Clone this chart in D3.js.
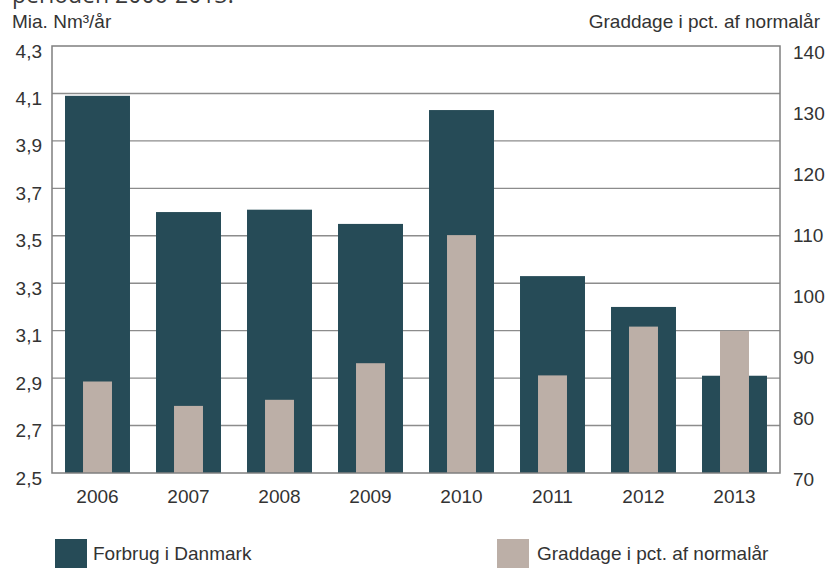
<!DOCTYPE html>
<html>
<head>
<meta charset="utf-8">
<script src="https://cdn.jsdelivr.net/npm/d3@7"></script>
<style>
  html, body { margin: 0; padding: 0; background: #ffffff; }
  svg { display: block; }
  text { font-family: "Liberation Sans", Arial, sans-serif; fill: #333333; }
</style>
</head>
<body>
<svg id="chart" width="827" height="568"></svg>
<script>
// Naturgas: forbrug i Danmark (mia. Nm3/år) og graddage i pct. af normalår
const years = ["2006", "2007", "2008", "2009", "2010", "2011", "2012", "2013"];
const forbrug = [4.09, 3.60, 3.61, 3.55, 4.03, 3.33, 3.20, 2.91];
const graddage = [85, 81, 82, 88, 109, 86, 94, 93.3];
const leftTicks = [2.5, 2.7, 2.9, 3.1, 3.3, 3.5, 3.7, 3.9, 4.1, 4.3];
const rightTicks = [70, 80, 90, 100, 110, 120, 130, 140];
const seriesNames = ["Forbrug i Danmark", "Graddage i pct. af normalår"];

const colDark = "#264b57";
const colTan = "#bcafa7";
const colGrid = "#8c8c8c";

const svg = d3.select("#chart");
const plot = { left: 52, right: 780, top: 46, bottom: 473 };

const x = d3.scaleBand().domain(years)
  .range([plot.left, plot.right])
  .paddingInner(0.286).paddingOuter(0.143);
const yL = d3.scaleLinear().domain([2.5, 4.3]).range([plot.bottom, plot.top]);
const yR = d3.scaleLinear().domain([70, 140]).range([plot.bottom, plot.top]);

const da = d3.formatLocale({ decimal: ",", thousands: ".", grouping: [3], currency: ["", " kr."] });
const fmt1 = da.format(".1f");

// cut-off caption line at the very top
svg.append("text")
  .attr("x", 12).attr("y", 3)
  .style("font-family", "'Open Sans', 'Noto Sans', sans-serif")
  .style("font-size", "23px")
  .style("fill", "#3a3a3a")
  .text("perioden 2006-2013.");

// horizontal gridlines
svg.append("g")
  .selectAll("line")
  .data(leftTicks.slice(1, -1))
  .join("line")
  .attr("x1", plot.left).attr("x2", plot.right)
  .attr("y1", d => yL(d)).attr("y2", d => yL(d))
  .attr("stroke", colGrid).attr("stroke-width", 1.4);

// consumption bars
svg.append("g")
  .selectAll("rect")
  .data(years.map((y, i) => ({ y, v: forbrug[i] })))
  .join("rect")
  .attr("x", d => x(d.y))
  .attr("width", x.bandwidth())
  .attr("y", d => yL(d.v))
  .attr("height", d => yL(2.5) - yL(d.v))
  .attr("fill", colDark);

// degree-day bars (narrow, centred in each band)
const tanW = x.bandwidth() * 0.446;
svg.append("g")
  .selectAll("rect")
  .data(years.map((y, i) => ({ y, v: graddage[i] })))
  .join("rect")
  .attr("x", d => x(d.y) + (x.bandwidth() - tanW) / 2)
  .attr("width", tanW)
  .attr("y", d => yR(d.v))
  .attr("height", d => yR(70) - yR(d.v))
  .attr("fill", colTan);

// plot frame
svg.append("rect")
  .attr("x", plot.left).attr("y", plot.top)
  .attr("width", plot.right - plot.left)
  .attr("height", plot.bottom - plot.top)
  .attr("fill", "none")
  .attr("stroke", "#7f7f7f").attr("stroke-width", 1.5);

// left axis
const gL = svg.append("g")
  .attr("transform", `translate(${plot.left},0)`)
  .call(d3.axisLeft(yL).tickValues(leftTicks).tickFormat(fmt1).tickSize(0).tickPadding(10));
gL.select(".domain").remove();
gL.selectAll("text")
  .attr("dy", "0.32em").attr("y", 5)
  .style("font-size", "19px").style("fill", "#333");

// right axis
const gR = svg.append("g")
  .attr("transform", `translate(${plot.right},0)`)
  .call(d3.axisRight(yR).tickValues(rightTicks).tickFormat(d3.format("d")).tickSize(0).tickPadding(13));
gR.select(".domain").remove();
gR.selectAll("text")
  .attr("dy", "0.32em").attr("y", 6.5)
  .style("font-size", "19px").style("fill", "#333");

// bottom axis
const gB = svg.append("g")
  .attr("transform", `translate(0,${plot.bottom})`)
  .call(d3.axisBottom(x).tickSize(0).tickPadding(0));
gB.select(".domain").remove();
gB.selectAll("text")
  .attr("y", 24).attr("dy", "0.32em")
  .style("font-size", "19px").style("fill", "#333");

// axis titles
svg.append("text")
  .attr("x", 12).attr("y", 28)
  .style("font-size", "19px")
  .text("Mia. Nm³/år");
svg.append("text")
  .attr("x", 820).attr("y", 28)
  .attr("text-anchor", "end")
  .style("font-size", "19px")
  .text("Graddage i pct. af normalår");

// legend
const legend = [
  { name: seriesNames[0], color: colDark, x: 55, tx: 93 },
  { name: seriesNames[1], color: colTan, x: 497, tx: 537 }
];
const lg = svg.append("g").selectAll("g").data(legend).join("g");
lg.append("rect")
  .attr("x", d => d.x).attr("y", 539)
  .attr("width", 32).attr("height", 32)
  .attr("fill", d => d.color);
lg.append("text")
  .attr("x", d => d.tx).attr("y", 553)
  .attr("dy", "0.35em")
  .style("font-size", "19px")
  .text(d => d.name);
</script>
</body>
</html>
